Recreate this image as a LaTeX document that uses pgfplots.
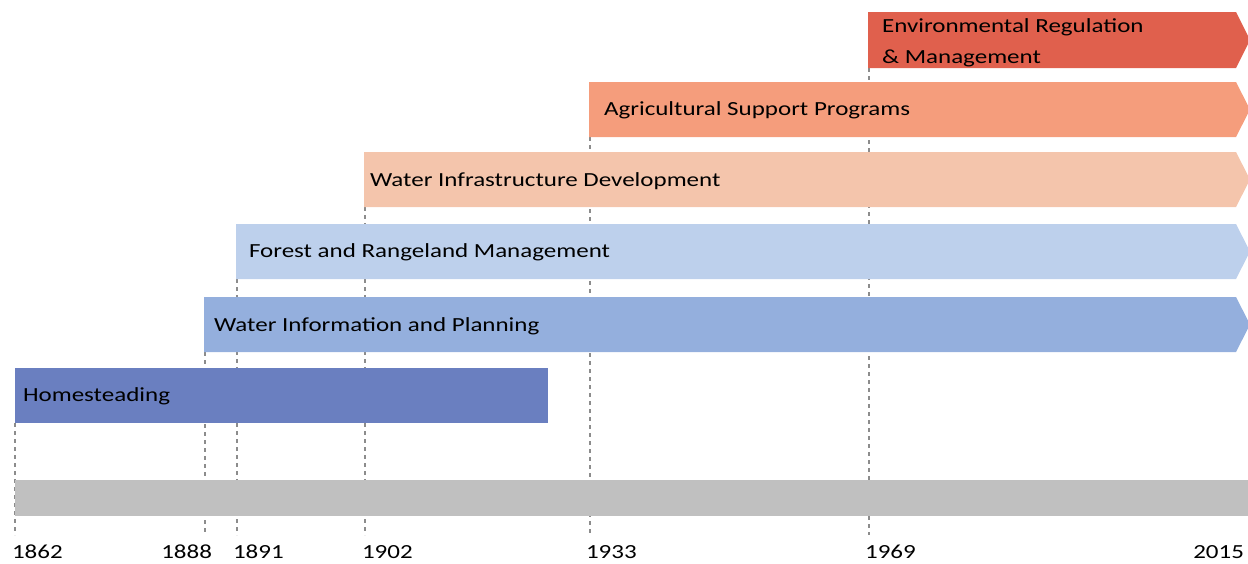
\documentclass[border=0pt]{standalone}
\usepackage{pgfplots}
\pgfplotsset{compat=1.18}
\usepackage{fontspec}
\setmainfont{Carlito}[FakeStretch=1.25]
\definecolor{cEnv}{RGB}{224,96,77}
\definecolor{cAgr}{RGB}{245,157,124}
\definecolor{cInf}{RGB}{244,197,172}
\definecolor{cFor}{RGB}{189,208,236}
\definecolor{cWin}{RGB}{148,175,221}
\definecolor{cHom}{RGB}{106,127,192}
\definecolor{cBase}{RGB}{192,192,192}
\definecolor{cDash}{RGB}{140,140,140}
\definecolor{cTxt}{RGB}{40,40,40}
\begin{document}
\begin{tikzpicture}
\begin{axis}[
  scale only axis, width=624pt, height=281.5pt,
  xmin=0, xmax=1248, ymin=0, ymax=563, y dir=reverse,
  hide axis, clip=true,
  every node/.style={font=\fontsize{13}{15.5}\selectfont, text=cTxt, inner sep=0pt},
]
% dashed guide lines (x position of each year, from bar bottom to below the base bar)
\addplot[cDash, line width=0.75pt, dash pattern=on 2pt off 2pt] coordinates {(15,423) (15,535)};
\addplot[cDash, line width=0.75pt, dash pattern=on 2pt off 2pt] coordinates {(205,352) (205,535)};
\addplot[cDash, line width=0.75pt, dash pattern=on 2pt off 2pt] coordinates {(237,279) (237,535)};
\addplot[cDash, line width=0.75pt, dash pattern=on 2pt off 2pt] coordinates {(365,207) (365,535)};
\addplot[cDash, line width=0.75pt, dash pattern=on 2pt off 2pt] coordinates {(590,137) (590,535)};
\addplot[cDash, line width=0.75pt, dash pattern=on 2pt off 2pt] coordinates {(869,68) (869,535)};
% base bar
\addplot[fill=cBase, draw=none] coordinates {(15,480) (1248,480) (1248,516) (15,516)} -- cycle;
% bars
\addplot[fill=cHom, draw=none] coordinates {(15,368) (548,368) (548,423) (15,423)} -- cycle;
\addplot[fill=cWin, draw=none] coordinates {(204,297) (1236,297) (1250,324.5) (1236,352) (204,352)} -- cycle;
\addplot[fill=cFor, draw=none] coordinates {(236,224) (1236,224) (1250,251.5) (1236,279) (236,279)} -- cycle;
\addplot[fill=cInf, draw=none] coordinates {(364,152) (1236,152) (1250,179.5) (1236,207) (364,207)} -- cycle;
\addplot[fill=cAgr, draw=none] coordinates {(589,82) (1236,82) (1250,109.5) (1236,137) (589,137)} -- cycle;
\addplot[fill=cEnv, draw=none] coordinates {(868,12) (1236,12) (1250,40) (1236,68) (868,68)} -- cycle;
% bar labels
\node[anchor=west] at (axis cs:16,396) {Homesteading};
\node[anchor=west] at (axis cs:207,326) {Water Information and Planning};
\node[anchor=west] at (axis cs:242,252) {Forest and Rangeland Management};
\node[anchor=west] at (axis cs:363,181) {Water Infrastructure Development};
\node[anchor=west] at (axis cs:597,110) {Agricultural Support Programs};
\node[anchor=west, align=left] at (axis cs:875,43) {Environmental Regulation\\[3.5pt]\& Management};
% year labels
\node[anchor=base west] at (axis cs:5,558) {1862};
\node[anchor=base east] at (axis cs:219,558) {1888};
\node[anchor=base west] at (axis cs:226,558) {1891};
\node[anchor=base west] at (axis cs:355,558) {1902};
\node[anchor=base west] at (axis cs:579,558) {1933};
\node[anchor=base west] at (axis cs:858,558) {1969};
\node[anchor=base east] at (axis cs:1251,558) {2015};
\end{axis}
\pgfresetboundingbox
\path (current axis.south west) rectangle (current axis.north east);
\end{tikzpicture}
\end{document}
